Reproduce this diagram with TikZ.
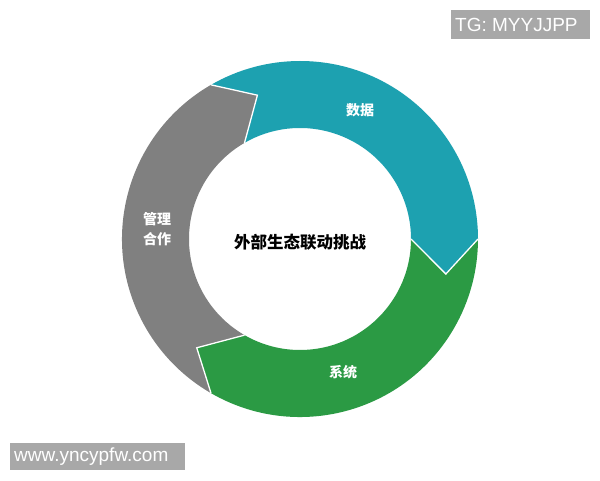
\documentclass[tikz,border=0pt]{standalone}
\usepackage{fontspec}
\setmainfont{Liberation Sans}
\newfontfamily\cjk{Noto Sans CJK SC}
\definecolor{ringteal}{RGB}{29,161,176}
\definecolor{ringgreen}{RGB}{43,154,68}
\definecolor{ringgray}{RGB}{128,128,128}
\definecolor{wmgray}{RGB}{168,168,168}
\tikzset{
  seglabel/.style={text=white, font=\cjk\bfseries\fontsize{14}{20}\selectfont, align=center, inner sep=0pt},
  centerlabel/.style={text=black, font=\cjk\bfseries\fontsize{16.5}{20}\selectfont, inner sep=0pt},
  sep/.style={draw=white, line width=1.3pt, line join=miter},
  wmbox/.style={fill=wmgray, draw=none},
  wmtext/.style={text=white, font=\fontsize{19}{22}\selectfont, inner sep=0pt, anchor=west}
}
\begin{document}
\begin{tikzpicture}[x=1pt,y=1pt]
\useasboundingbox (0,0) rectangle (600,480);
\fill[white] (0,0) rectangle (600,480);
\begin{scope}[shift={(300,241)}]
  % teal arrow (数据)
  \fill[ringteal] (120:178) -- (106.5:150) -- (120:111)
    arc[start angle=120, end angle=0, radius=111] -- (-13.5:150) -- (0:178)
    arc[start angle=0, end angle=120, radius=178] -- cycle;
  % green arrow (系统)
  \fill[ringgreen] (0:178) -- (-13.5:150) -- (0:111)
    arc[start angle=0, end angle=-120, radius=111] -- (-133.5:150) -- (-120:178)
    arc[start angle=-120, end angle=0, radius=178] -- cycle;
  % gray arrow (管理合作)
  \fill[ringgray] (240:178) -- (226.5:150) -- (240:111)
    arc[start angle=240, end angle=120, radius=111] -- (106.5:150) -- (120:178)
    arc[start angle=120, end angle=240, radius=178] -- cycle;
  % white separators
  \draw[sep] (120:178) -- (106.5:150) -- (120:111);
  \draw[sep] (0:178) -- (-13.5:150) -- (0:111);
  \draw[sep] (240:178) -- (226.5:150) -- (240:111);
\end{scope}
\node[seglabel] (data) at (360,370) {数据};
\node[seglabel] (mgmt) at (157,251) {管理\\合作};
\node[seglabel] (sys) at (343,108) {系统};
\node[centerlabel] (center) at (300,238) {外部生态联动挑战};
% watermarks
\fill[wmbox] (451,441) rectangle (590,470);
\node[wmtext] (tg) at (455,455.5) {TG: MYYJJPP};
\fill[wmbox] (10,10) rectangle (185,37.3);
\node[wmtext] (www) at (14,23.7) {www.yncypfw.com};
\end{tikzpicture}
\end{document}
